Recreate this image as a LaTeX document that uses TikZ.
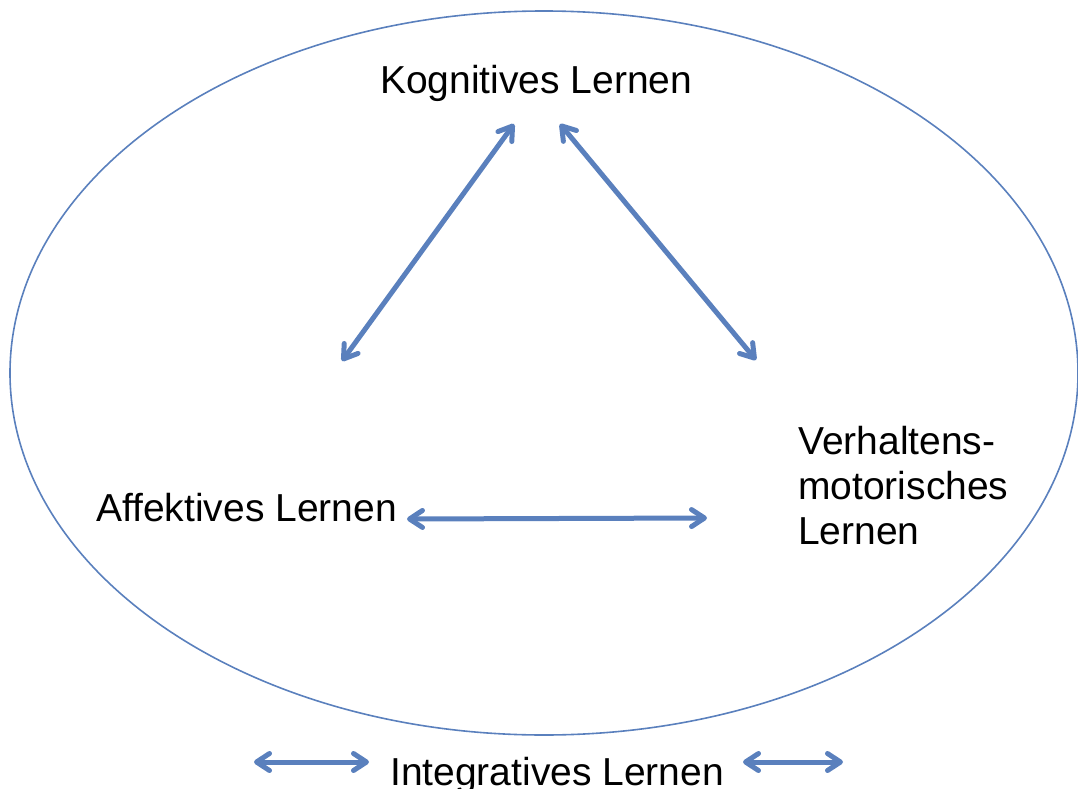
\documentclass[tikz,border=0pt]{standalone}
\usepackage{fontspec}
\setmainfont{Liberation Sans}
\usetikzlibrary{arrows.meta}
\definecolor{arrblue}{HTML}{5A80BD}
\tikzset{
  lbl/.style={font=\fontsize{39}{45}\selectfont, text=black, inner sep=0pt, anchor=base west, align=left},
  dbl/.style={draw=arrblue, line width=5pt, line cap=round,
    {Straight Barb[length=13pt,width=17pt,round]}-{Straight Barb[length=13pt,width=17pt,round]}},
  ring/.style={draw=arrblue, line width=1.6pt}
}
\begin{document}
\begin{tikzpicture}[x=1pt,y=-1pt]
\useasboundingbox (0,0) rectangle (1078,789);
\draw[ring] (544,373) ellipse [x radius=534, y radius=362];
\node[lbl] (kog) at (380,94) {Kognitives Lernen};
\node[lbl] (aff) at (96,521) {Affektives Lernen};
\node[lbl] (ver) at (798,544) {Verhaltens-\\motorisches\\Lernen};
\node[lbl] (int) at (390,785) {Integratives Lernen};
\coordinate (k1) at (514,124);
\coordinate (k2) at (560,124);
\coordinate (a1) at (342,361);
\coordinate (v1) at (756,360);
\coordinate (a2) at (407,519);
\coordinate (v2) at (707,518);
\coordinate (l1) at (254,762);
\coordinate (l2) at (369,762);
\coordinate (r1) at (743,762);
\coordinate (r2) at (843,762);
\draw[dbl] (a1) -- (k1);
\draw[dbl] (k2) -- (v1);
\draw[dbl] (a2) -- (v2);
\draw[dbl] (l1) -- (l2);
\draw[dbl] (r1) -- (r2);
\end{tikzpicture}
\end{document}
